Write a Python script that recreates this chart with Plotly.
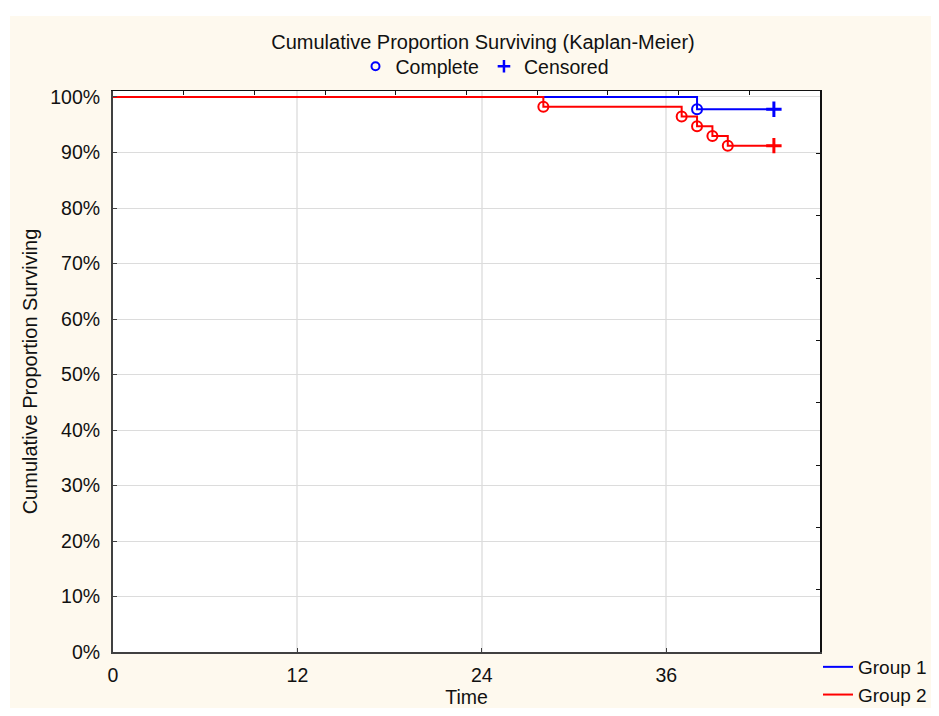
import plotly.graph_objects as go

# ---- data ----
g1_time = [0, 38, 43]
g1_surv = [1.0, 0.978, 0.978]
g1_event_time = [38]
g1_event_surv = [0.978]
g1_cens_time = [43]
g1_cens_surv = [0.978]

g2_time = [0, 28, 37, 38, 39, 40, 43]
g2_surv = [1.0, 0.9825, 0.9649, 0.9474, 0.9298, 0.9123, 0.9123]
g2_event_time = [28, 37, 38, 39, 40]
g2_event_surv = [0.9825, 0.9649, 0.9474, 0.9298, 0.9123]
g2_cens_time = [43]
g2_cens_surv = [0.9123]

x_ticks = [0, 12, 24, 36]
y_ticks = [i / 10 for i in range(11)]

X_MAX = 46
Y_MAX = 1.0108
top_ticks = [X_MAX * i / 10 for i in range(11)]
right_ticks = [Y_MAX * i / 9 for i in range(10)]

BLUE = "#0000FF"
RED = "#FF0000"
CREAM = "#FEF9EE"
FONT = "Liberation Sans, Arial, sans-serif"

fig = go.Figure()

# group 1
fig.add_trace(go.Scatter(x=g1_time, y=g1_surv, mode="lines", line=dict(color=BLUE, width=2, shape="hv"),
                         name="Group 1", legend="legend"))
fig.add_trace(go.Scatter(x=g1_event_time, y=g1_event_surv, mode="markers",
                         marker=dict(symbol="circle-open", size=10, color=BLUE, line=dict(width=2, color=BLUE)),
                         showlegend=False))
fig.add_trace(go.Scatter(x=g1_cens_time, y=g1_cens_surv, mode="markers",
                         marker=dict(symbol="cross-thin", size=11, color=BLUE, line=dict(width=3, color=BLUE)),
                         showlegend=False))
# group 2
fig.add_trace(go.Scatter(x=g2_time, y=g2_surv, mode="lines", line=dict(color=RED, width=2, shape="hv"),
                         name="Group 2", legend="legend"))
fig.add_trace(go.Scatter(x=g2_event_time, y=g2_event_surv, mode="markers",
                         marker=dict(symbol="circle-open", size=10, color=RED, line=dict(width=2, color=RED)),
                         showlegend=False))
fig.add_trace(go.Scatter(x=g2_cens_time, y=g2_cens_surv, mode="markers",
                         marker=dict(symbol="cross-thin", size=11, color=RED, line=dict(width=3, color=RED)),
                         showlegend=False))

# symbol legend
fig.add_trace(go.Scatter(x=[None], y=[None], mode="markers", name="Complete", legend="legend2",
                         marker=dict(symbol="circle-open", size=8, color=BLUE, line=dict(width=2, color=BLUE))))
fig.add_trace(go.Scatter(x=[None], y=[None], mode="markers", name="Censored", legend="legend2",
                         marker=dict(symbol="cross-thin", size=9, color=BLUE, line=dict(width=2.5, color=BLUE))))

# phantom trace to activate top/right axes
fig.add_trace(go.Scatter(x=[None], y=[None], xaxis="x2", yaxis="y2", showlegend=False, hoverinfo="skip"))

OFF = 8  # page body margin
W, H = 939 - 2 * OFF, 716 - 2 * OFF
L, T = 113 - OFF, 91 - OFF
R = W - (820 - OFF)
B = H - (652 - OFF)
pw, ph = W - L - R, H - T - B


def px_x(p):
    p = p - OFF
    return (p - L) / pw


def px_y(p):
    p = p - OFF
    return (H - B - p) / ph


fig.update_layout(
    width=W, height=H,
    margin=dict(l=L, r=R, t=T, b=B, autoexpand=False),
    paper_bgcolor=CREAM,
    plot_bgcolor="white",
    font=dict(family=FONT, size=19.5, color="#111111"),
    title=dict(text="Cumulative Proportion Surviving (Kaplan-Meier)", x=(483 - OFF) / W, xanchor="center",
               y=1 - (41.5 - OFF) / H, yanchor="middle", font=dict(size=20)),
    xaxis=dict(range=[0, X_MAX], tickvals=x_ticks, ticktext=[str(v) for v in x_ticks],
               showgrid=True, gridcolor="#E8E8E8", gridwidth=2,
               showline=True, linecolor="#404040", linewidth=2,
               ticks="inside", ticklen=4, tickcolor="#404040", zeroline=False,
               ticklabelstandoff=5,
               title=dict(text="Time", standoff=6, font=dict(size=19.5))),
    yaxis=dict(range=[0, Y_MAX], tickvals=y_ticks, tickformat=".0%",
               showgrid=True, gridcolor="#DCDCDC", gridwidth=1,
               showline=True, linecolor="#404040", linewidth=2,
               ticks="inside", ticklen=4, tickcolor="#404040", zeroline=False,
               ticklabelstandoff=7,
               title=dict(text="Cumulative Proportion Surviving", standoff=7, font=dict(size=20))),
    xaxis2=dict(range=[0, X_MAX], overlaying="x", side="top", tickvals=top_ticks, showticklabels=False,
                ticks="inside", ticklen=4, tickcolor="#111111", showgrid=False, zeroline=False,
                showline=True, linecolor="#111111", linewidth=1),
    yaxis2=dict(range=[0, Y_MAX], overlaying="y", side="right", tickvals=right_ticks, showticklabels=False,
                ticks="inside", ticklen=4, tickcolor="#111111", showgrid=False, zeroline=False,
                showline=True, linecolor="#111111", linewidth=2),
    legend=dict(x=px_x(818), y=px_y(648), xanchor="left", yanchor="top", bgcolor="rgba(0,0,0,0)",
                font=dict(size=19), itemwidth=30, tracegroupgap=0),
    legend2=dict(orientation="h", x=px_x(485), y=px_y(66.5), xanchor="center", yanchor="middle",
                 bgcolor="rgba(0,0,0,0)", font=dict(size=19.5)),
    shapes=[
        dict(type="rect", xref="paper", yref="paper", x0=px_x(0), x1=px_x(939), y0=px_y(16), y1=px_y(0),
             fillcolor="white", line=dict(width=0), layer="below"),
        dict(type="rect", xref="paper", yref="paper", x0=px_x(0), x1=px_x(10), y0=px_y(716), y1=px_y(0),
             fillcolor="white", line=dict(width=0), layer="below"),
    ],
)

fig.write_html("out.html")
